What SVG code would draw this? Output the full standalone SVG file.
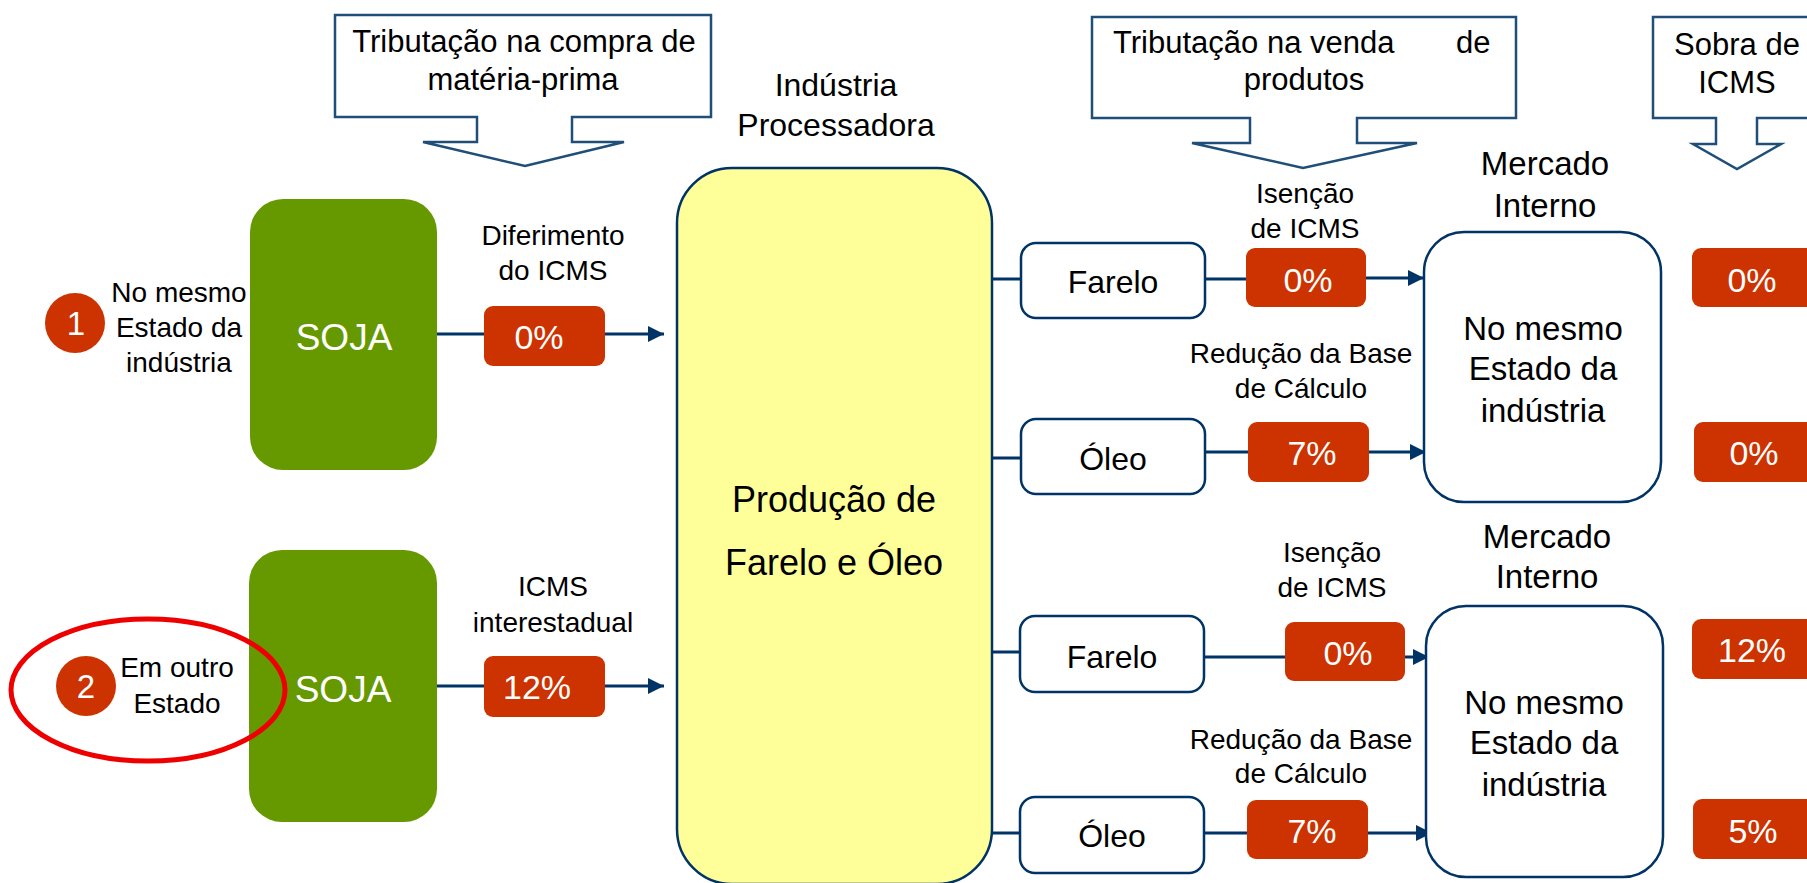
<svg xmlns="http://www.w3.org/2000/svg" width="1807" height="883" viewBox="0 0 1807 883">
<style>
text{font-family:"Liberation Sans",Arial,sans-serif;fill:#000;text-anchor:middle}
.call{fill:#fff;stroke:#1f4e79;stroke-width:2.5}
.lbl{font-size:28px}
.big{font-size:32px}
.soja{fill:#669900}
.sojat{fill:#fff;font-size:37px}
.pct{fill:#cc3300}
.pctt{fill:#fff;font-size:34px}
.num{fill:#cc3300}
.numt{fill:#fff;font-size:33px}
.prod{fill:#fff;stroke:#003366;stroke-width:2.5}
.mk{fill:#fff;stroke:#003366;stroke-width:2.5}
.con{stroke:#003366;stroke-width:3;fill:none}
.arr{stroke:#003366;stroke-width:3;fill:none;marker-end:url(#ah)}
</style>
<defs>
<marker id="ah" markerUnits="userSpaceOnUse" markerWidth="16" markerHeight="16" refX="16" refY="8" orient="auto">
<path d="M0,0 L16,8 L0,16 Z" fill="#003366"/>
</marker>
</defs>
<rect width="1807" height="883" fill="#fff"/>

<g id="callout-compra">
<path class="call" d="M335,15 H711 V117 H572 V142 H624 L525,166 L423,142 H477 V117 H335 Z"/>
<text x="524" y="52" style="font-size:31px">Tributação na compra de</text>
<text x="523" y="90" style="font-size:31px">matéria-prima</text>
</g>
<g id="callout-venda">
<path class="call" d="M1092,17 H1516 V118 H1357 V143 H1417 L1303,168 L1192,143 H1250 V118 H1092 Z"/>
<text y="53" style="font-size:31px;text-anchor:start"><tspan x="1113">Tributação na venda</tspan><tspan x="1456">de</tspan></text>
<text x="1304" y="90" style="font-size:31px">produtos</text>
</g>
<g id="callout-sobra">
<path class="call" d="M1653,17 H1822 V118 H1757 V144 H1781 L1737,169 L1693,144 H1716 V118 H1653 Z"/>
<text x="1737" y="55" style="font-size:31px">Sobra de</text>
<text x="1737" y="93" style="font-size:31px">ICMS</text>
</g>

<g id="label-industria">
<text x="836" y="96" class="big">Indústria</text>
<text x="836" y="136" class="big">Processadora</text>
</g>

<g id="connectors">
<line class="con" x1="437" y1="334" x2="484" y2="334"/>
<line class="arr" x1="605" y1="334" x2="664" y2="334"/>
<line class="con" x1="437" y1="686" x2="484" y2="686"/>
<line class="arr" x1="605" y1="686" x2="664" y2="686"/>
<line class="con" x1="992" y1="279" x2="1021" y2="279"/>
<line class="con" x1="1205" y1="279" x2="1246" y2="279"/>
<line class="arr" x1="1366" y1="278" x2="1424" y2="278"/>
<line class="con" x1="992" y1="458" x2="1021" y2="458"/>
<line class="con" x1="1205" y1="452" x2="1248" y2="452"/>
<line class="arr" x1="1369" y1="452" x2="1426" y2="452"/>
<line class="con" x1="992" y1="652" x2="1020" y2="652"/>
<line class="con" x1="1204" y1="657" x2="1285" y2="657"/>
<line class="arr" x1="1405" y1="657" x2="1429" y2="657"/>
<line class="con" x1="992" y1="833" x2="1020" y2="833"/>
<line class="con" x1="1204" y1="833" x2="1247" y2="833"/>
<line class="arr" x1="1368" y1="833" x2="1432" y2="833"/>
</g>

<g id="origem-1">
<ellipse class="num" cx="75" cy="323" rx="30" ry="30"/>
<text x="76" y="335" class="numt">1</text>
<text x="179" y="302" class="lbl">No mesmo</text>
<text x="179" y="337" class="lbl">Estado da</text>
<text x="179" y="372" class="lbl">indústria</text>
</g>
<g id="soja-1">
<rect class="soja" x="250" y="199" width="187" height="271" rx="33" ry="33"/>
<text x="344" y="350" class="sojat">SOJA</text>
</g>
<g id="taxa-diferimento">
<text x="553" y="245" class="lbl">Diferimento</text>
<text x="553" y="280" class="lbl">do ICMS</text>
<rect class="pct" x="484" y="306" width="121" height="60" rx="9"/>
<text x="539" y="349" class="pctt">0%</text>
</g>

<g id="soja-2">
<rect class="soja" x="249" y="550" width="188" height="272" rx="33" ry="33"/>
<text x="343" y="702" class="sojat">SOJA</text>
</g>
<g id="origem-2">
<ellipse class="num" cx="86" cy="686" rx="30" ry="30"/>
<text x="86" y="698" class="numt">2</text>
<text x="177" y="677" class="lbl">Em outro</text>
<text x="177" y="713" class="lbl">Estado</text>
<ellipse cx="148" cy="690" rx="137" ry="71" fill="none" stroke="#ee0000" stroke-width="5"/>
</g>
<g id="taxa-interestadual">
<text x="553" y="596" class="lbl">ICMS</text>
<text x="553" y="632" class="lbl">interestadual</text>
<rect class="pct" x="484" y="656" width="121" height="61" rx="9"/>
<text x="537" y="699" class="pctt">12%</text>
</g>

<g id="industria">
<rect x="677" y="168" width="315" height="716" rx="55" ry="55" fill="#ffff99" stroke="#003366" stroke-width="2.5"/>
<text x="834" y="512" style="font-size:36px">Produção de</text>
<text x="834" y="575" style="font-size:36px">Farelo e Óleo</text>
</g>

<g id="farelo-1">
<rect class="prod" x="1021" y="243" width="184" height="75" rx="15"/>
<text x="1113" y="293" class="big">Farelo</text>
</g>
<g id="oleo-1">
<rect class="prod" x="1021" y="419" width="184" height="75" rx="15"/>
<text x="1113" y="470" class="big">Óleo</text>
</g>
<g id="farelo-2">
<rect class="prod" x="1020" y="616" width="184" height="76" rx="15"/>
<text x="1112" y="668" class="big">Farelo</text>
</g>
<g id="oleo-2">
<rect class="prod" x="1020" y="797" width="184" height="76" rx="15"/>
<text x="1112" y="847" class="big">Óleo</text>
</g>

<g id="taxa-farelo-1">
<text x="1305" y="203" class="lbl">Isenção</text>
<text x="1305" y="238" class="lbl">de ICMS</text>
<rect class="pct" x="1246" y="248" width="120" height="59" rx="9"/>
<text x="1308" y="292" class="pctt">0%</text>
</g>
<g id="taxa-oleo-1">
<text x="1301" y="363" class="lbl">Redução da Base</text>
<text x="1301" y="398" class="lbl">de Cálculo</text>
<rect class="pct" x="1248" y="422" width="121" height="60" rx="9"/>
<text x="1312" y="465" class="pctt">7%</text>
</g>
<g id="taxa-farelo-2">
<text x="1332" y="562" class="lbl">Isenção</text>
<text x="1332" y="597" class="lbl">de ICMS</text>
<rect class="pct" x="1285" y="622" width="120" height="59" rx="9"/>
<text x="1348" y="665" class="pctt">0%</text>
</g>
<g id="taxa-oleo-2">
<text x="1301" y="749" class="lbl">Redução da Base</text>
<text x="1301" y="783" class="lbl">de Cálculo</text>
<rect class="pct" x="1247" y="800" width="121" height="59" rx="9"/>
<text x="1312" y="843" class="pctt">7%</text>
</g>

<g id="mercado-1">
<text x="1545" y="175" style="font-size:33px">Mercado</text>
<text x="1545" y="217" style="font-size:33px">Interno</text>
<rect class="mk" x="1424" y="232" width="237" height="270" rx="40"/>
<text x="1543" y="340" style="font-size:33px">No mesmo</text>
<text x="1543" y="380" style="font-size:33px">Estado da</text>
<text x="1543" y="422" style="font-size:33px">indústria</text>
</g>
<g id="mercado-2">
<text x="1547" y="548" style="font-size:33px">Mercado</text>
<text x="1547" y="588" style="font-size:33px">Interno</text>
<rect class="mk" x="1426" y="606" width="237" height="271" rx="40"/>
<text x="1544" y="714" style="font-size:33px">No mesmo</text>
<text x="1544" y="754" style="font-size:33px">Estado da</text>
<text x="1544" y="796" style="font-size:33px">indústria</text>
</g>

<g id="sobra-1">
<rect class="pct" x="1692" y="248" width="130" height="59" rx="9"/>
<text x="1752" y="292" class="pctt">0%</text>
</g>
<g id="sobra-2">
<rect class="pct" x="1694" y="422" width="130" height="60" rx="9"/>
<text x="1754" y="465" class="pctt">0%</text>
</g>
<g id="sobra-3">
<rect class="pct" x="1692" y="619" width="130" height="60" rx="9"/>
<text x="1752" y="662" class="pctt">12%</text>
</g>
<g id="sobra-4">
<rect class="pct" x="1693" y="799" width="130" height="60" rx="9"/>
<text x="1753" y="843" class="pctt">5%</text>
</g>
</svg>
